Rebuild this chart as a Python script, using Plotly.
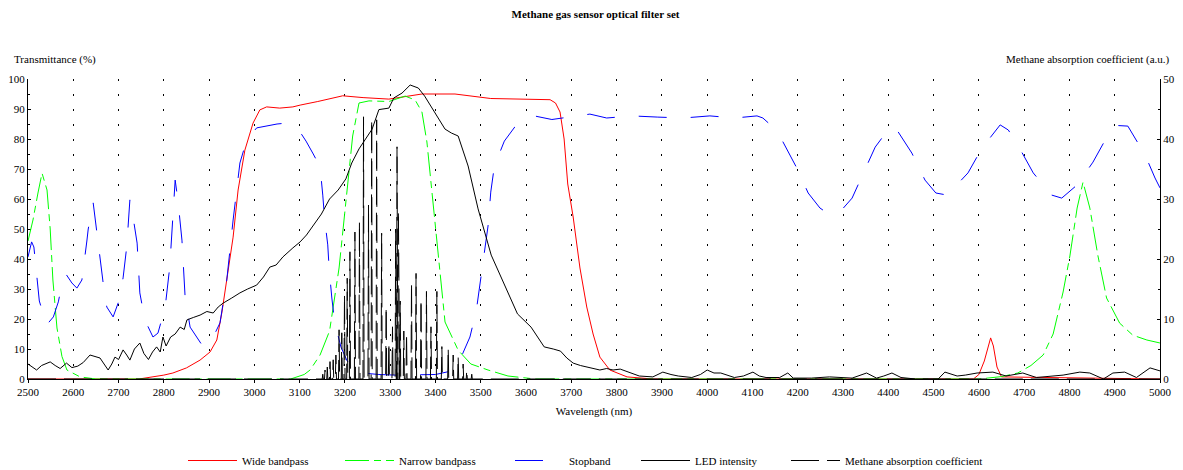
import plotly.graph_objects as go

# ---------------- data ----------------
wide_wl = [2500, 2745, 2800, 2820, 2850, 2880, 2902, 2917, 2928, 2939, 2953, 2964, 2979, 2997, 3012, 3027,
           3056, 3085, 3101, 3140, 3195, 3240, 3297, 3370, 3443, 3522, 3600, 3653, 3665, 3675, 3684, 3692,
           3704, 3719, 3734, 3748, 3763, 3785, 3823, 3880, 4588, 4600, 4612, 4620, 4626, 4632, 4640, 4650, 5000]
wide_t = [0, 0, 1.3, 2, 3.7, 6.3, 9, 13, 22, 33, 47.3, 63, 76.3, 85.3, 89.7, 90.7,
          90.3, 90.7, 91.3, 92.5, 94.4, 93.8, 93.3, 95, 95, 93.5, 93.2, 93.1, 92, 89, 80, 65,
          54, 37, 24, 15, 7.3, 3, 0.7, 0, 0, 1.5, 6, 11, 13.7, 11, 4, 0.7, 0]

narrow_wl = [2500, 2511, 2522, 2531, 2542, 2549, 2555, 2564, 2575, 2586, 2615, 2650, 3080, 3110, 3123, 3145,
             3166, 3187, 3202, 3217, 3231, 3253, 3297, 3333, 3355, 3370, 3381, 3393, 3406, 3421, 3450, 3478,
             3516, 3560, 3620, 4600, 4650, 4686, 4715, 4742, 4764, 4786, 4801, 4817, 4830, 4845, 4863, 4882,
             4911, 4940, 4971, 5000]
narrow_t = [46, 53, 62, 68.6, 63, 50, 33, 17, 7.5, 3, 0.7, 0, 0, 1.5, 3, 8,
            16, 37, 59, 81, 92, 92.7, 92.5, 94.3, 93, 89, 79, 61, 41, 19, 9.6, 5,
            3, 1, 0, 0, 0.8, 2, 4.5, 8, 15, 29, 41, 57, 65.6, 57, 41, 27,
            18.6, 14.6, 13, 12]

stop_wl = [2500, 2508, 2513, 2519, 2525, 2541, 2556, 2567, 2578, 2585, 2597, 2608, 2619, 2630, 2633, 2644,
           2651, 2659, 2666, 2674, 2688, 2699, 2710, 2718, 2725, 2732, 2741, 2747, 2758, 2776, 2787, 2803,
           2813, 2825, 2831, 2840, 2847, 2858, 2887, 2909, 2924, 2939, 2953, 2968, 2983, 3005, 3027, 3050,
           3071, 3085, 3101, 3114, 3130, 3145, 3151, 3155, 3162, 3165, 3171, 3177, 3191, 3205, 3224, 3253,
           3275, 3312, 3400, 3430, 3450, 3476, 3490, 3498, 3505, 3516, 3522, 3530, 3552, 3575, 3600, 3618,
           3657, 3719, 3741, 3778, 3834, 3891, 3947, 4006, 4061, 4110, 4123, 4145, 4165, 4198, 4223, 4249,
           4271, 4295, 4320, 4346, 4371, 4404, 4419, 4452, 4481, 4505, 4530, 4576, 4607, 4647, 4665, 4686,
           4720, 4761, 4783, 4817, 4852, 4885, 4905, 4929, 4967, 4989, 5000]
stop_t = [40.7, 45.7, 44, 35, 26, 18, 20.7, 25.7, 34, 34.7, 32, 30.3, 33, 46, 50, 58.7,
          49.7, 40.7, 32, 24, 20.7, 25.3, 33.7, 44, 59.7, 54, 45.3, 28.7, 19.7, 14, 15.3, 24,
          37.3, 66.3, 59.7, 46.3, 27.3, 17.3, 10.7, 14, 18.7, 33, 53, 72, 79.7, 83.7, 84.3, 85,
          85.3, 84.5, 82.3, 79.3, 75, 70.7, 61.3, 53.5, 44.7, 37, 27, 19.3, 10.7, 6, 3, 1.8,
          1.5, 1.3, 1.5, 2.5, 5, 14, 22.7, 31.5, 39, 51, 62.3, 71, 79.3, 84, 86.5, 87.7,
          86.5, 88, 88.3, 87, 87.7, 87.3, 87, 87.7, 87, 87.7, 87, 84, 79.7, 70.3, 62, 57,
          54.7, 56, 60.3, 69, 77.3, 84, 83, 75.3, 66.3, 62, 61.3, 68.7, 77, 84.7, 83, 78,
          68.7, 61.3, 60.3, 64.7, 72.3, 81.3, 84.5, 84.3, 74.7, 67, 63.7]

led_wl = [2500, 2510, 2519, 2530, 2540, 2549, 2560, 2571, 2585, 2597, 2610, 2622, 2637, 2648, 2659, 2668,
          2677, 2685, 2692, 2700, 2710, 2718, 2725, 2735, 2747, 2756, 2766, 2775, 2784, 2792, 2798, 2805,
          2815, 2825, 2836, 2845, 2851, 2865, 2880, 2895, 2909, 2920, 2931, 2950, 2968, 2985, 3005, 3020,
          3034, 3048, 3063, 3085, 3101, 3115, 3130, 3148, 3166, 3185, 3202, 3215, 3231, 3245, 3260, 3275,
          3297, 3308, 3326, 3344, 3362, 3376, 3399, 3421, 3435, 3450, 3472, 3494, 3523, 3552, 3581, 3611,
          3640, 3660, 3676, 3690, 3704, 3720, 3734, 3750, 3763, 3778, 3792, 3808, 3820, 3850, 3880, 3902,
          3920, 3936, 3966, 3985, 4000, 4015, 4030, 4060, 4080, 4101, 4115, 4130, 4160, 4178, 4190, 4230,
          4270, 4320, 4352, 4374, 4390, 4408, 4428, 4460, 4510, 4525, 4552, 4570, 4596, 4631, 4660, 4697,
          4727, 4756, 4786, 4823, 4845, 4875, 4896, 4922, 4948, 4978, 5000]
led_t = [5, 4, 3, 4.5, 5, 5.7, 4.5, 3.5, 5.3, 3.8, 4.3, 5.5, 8, 7.5, 7, 5,
         3, 5, 7.3, 6.5, 9.7, 8, 6.3, 10, 12, 8.5, 6.5, 9, 10.7, 9, 14, 11,
         14, 15, 17.3, 16.5, 19.7, 20.5, 21.3, 22.5, 22, 24, 25.3, 27, 28.7, 30, 31.3, 34,
         37.3, 38, 40.7, 43.7, 45.7, 48, 51.3, 55, 60, 63, 66.7, 72, 76.7, 80, 83.3, 89.8,
         90.3, 93.7, 95.3, 98, 97, 94.3, 88.7, 83.3, 82, 81, 71, 56.7, 41.3, 31.5, 21.7, 17.3,
         10.7, 10, 9.3, 7, 5.3, 4.5, 4, 3.3, 3, 3.5, 3, 3.3, 2.7, 1, 0.7, 2.3,
         1.5, 1, 0.5, 1.5, 3, 2, 2, 0.5, 1, 2.3, 1, 0.5, 0.5, 2, 0.3, 0.3,
         0.7, 0.3, 2, 0.3, 1, 2, 0.5, 0, 0, 2.3, 1, 1.3, 2, 2.3, 1, 2,
         0.5, 1, 1.3, 2.3, 2, 0, 2, 2.3, 0.5, 3.7, 2.7]

# methane absorption lines (centre wavelength nm, coefficient a.u.)
ch4_line_wl = [3151, 3156, 3161, 3167, 3174, 3180, 3187, 3193, 3199, 3205, 3211, 3222, 3232, 3241, 3252, 3259,
               3270, 3281, 3291, 3297, 3305, 3312, 3315, 3318, 3322, 3330, 3336, 3347, 3357, 3368, 3380, 3390,
               3403, 3414, 3428, 3439, 3450, 3461, 3469, 3480]
ch4_line_k = [0.8, 1.5, 2.0, 2.9, 3.2, 4.0, 8.2, 7.7, 14.0, 16.8, 21.2, 24.5, 26.2, 43.7, 29.0, 43.2,
              43.2, 24.3, 12.0, 6.0, 8.7, 25.0, 38.7, 28.0, 13.0, 8.0, 7.6, 16.0, 17.6, 13.2, 14.6, 8.7,
              14.6, 5.4, 5.1, 4.0, 3.7, 2.5, 1.5, 0.8]
wl_range = [2500, 5000]

# build the spectrum path of the absorption lines (baseline - peak - baseline)
ch4_x = [wl_range[0]]
ch4_y = [0]
for c, k in zip(ch4_line_wl, ch4_line_k):
    ch4_x += [c - 1.2, c, c + 1.2]
    ch4_y += [0, k, 0]
ch4_x.append(wl_range[1])
ch4_y.append(0)

FONT = "'Liberation Serif', 'Times New Roman', Times, serif"
TXT = dict(family=FONT, size=11, color="black")

# the page body adds an 8px offset, so the figure is 8px smaller than the window
W, H = 1175, 462

fig = go.Figure()
fig.add_trace(go.Scatter(x=wide_wl, y=wide_t, name="Wide bandpass", mode="lines",
                         line=dict(color="#ff0000", width=1), legendwidth=93))
fig.add_trace(go.Scatter(x=narrow_wl, y=narrow_t, name="Narrow bandpass", mode="lines",
                         line=dict(color="#00ff00", width=1, dash="24px,5px,7px,5px"), legendwidth=106))
fig.add_trace(go.Scatter(x=stop_wl, y=stop_t, name="Stopband", mode="lines",
                         line=dict(color="#0000ff", width=1, dash="28px,24px"), legendwidth=62))
fig.add_trace(go.Scatter(x=led_wl, y=led_t, name="LED intensity", mode="lines",
                         line=dict(color="#000000", width=1), legendwidth=86))
fig.add_trace(go.Scatter(x=ch4_x, y=ch4_y, name="Methane absorption coefficient", mode="lines",
                         line=dict(color="#000000", width=1, dash="28px,8px"), yaxis="y2"))

axis_common = dict(showline=True, linecolor="black", linewidth=1, mirror=False, automargin=False,
                   tickfont=TXT, zeroline=False)

fig.update_layout(
    width=W, height=H,
    margin=dict(l=20, r=23, t=71, b=91, autoexpand=False),
    paper_bgcolor="white", plot_bgcolor="white",
    title=dict(text="<b>Methane gas sensor optical filter set</b>", x=0.5, xanchor="center",
               y=1 - 6 / H, yanchor="middle", font=TXT),
    font=TXT,
    xaxis=dict(range=wl_range, tick0=2500, dtick=100, ticks="outside", ticklen=3, tickcolor="black",
               showgrid=True, gridcolor="black", gridwidth=1, griddash="2px,13px",
               layer="below traces",
               title=dict(text="Wavelength (nm)", font=TXT, standoff=10),
               **axis_common),
    yaxis=dict(range=[0, 100], dtick=10, ticks="inside", ticklen=3, tickcolor="black",
               showgrid=False, layer="below traces",
               minor=dict(dtick=5, ticks="inside", ticklen=2, tickcolor="black"),
               **axis_common),
    yaxis2=dict(range=[0, 50], dtick=10, overlaying="y", side="right", anchor="x",
                ticks="inside", ticklen=3, tickcolor="black", showgrid=False, layer="below traces",
                minor=dict(dtick=5, ticks="inside", ticklen=2, tickcolor="black"),
                **axis_common),
    showlegend=True,
    legend=dict(orientation="h", x=(183 - 28) / 1132, xanchor="left", y=-(446 - 379) / 300, yanchor="top",
                itemwidth=49, font=TXT, bgcolor="rgba(0,0,0,0)", tracegroupgap=0),
    annotations=[
        dict(text="Transmittance (%)", xref="paper", yref="paper", x=(12 - 28) / 1132, xanchor="left",
             y=(379 - 59) / 300, yanchor="middle", showarrow=False, font=TXT),
        dict(text="Methane absorption coefficient (a.u.)", xref="paper", yref="paper",
             x=(1172 - 28) / 1132, xanchor="right", y=(379 - 59) / 300, yanchor="middle",
             showarrow=False, font=TXT),
    ],
)

fig.write_html("out.html")
